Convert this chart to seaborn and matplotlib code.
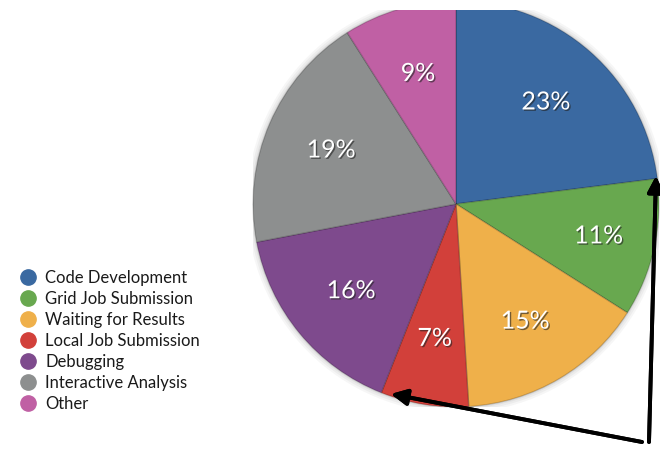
import matplotlib
matplotlib.use("Agg")
import matplotlib.pyplot as plt
import matplotlib.patheffects as pe
from matplotlib.lines import Line2D
from matplotlib.patches import Rectangle
import seaborn as sns

# Share of time spent per activity (percent), clockwise from 12 o'clock
categories = ["Code Development", "Grid Job Submission", "Waiting for Results",
              "Local Job Submission", "Debugging", "Interactive Analysis", "Other"]
shares = [23, 11, 15, 7, 16, 19, 9]
colors = ["#3a69a1", "#68a84f", "#efb04a", "#d2403a", "#7e4a8d", "#8d8f8f", "#c060a4"]

sns.set_theme(style="white")
plt.rcParams["font.family"] = ["Lato", "DejaVu Sans"]

W, H = 660, 449
fig = plt.figure(figsize=(W / 100, H / 100), dpi=100)

# pie centred at (456, 204) px from top-left, radius 203 px
cx, cy, r = 456, 204, 203
ax = fig.add_axes([(cx - r) / W, (H - cy - r) / H, 2 * r / W, 2 * r / H])
ax.axis("off")

# soft halo around the disc
for k, a in enumerate([0.05, 0.06, 0.08]):
    ax.add_patch(plt.Circle((0, 0), 1.03 - k * 0.01, color="#555555", alpha=a, lw=0))

wedges, _, autotexts = ax.pie(
    shares, colors=colors, startangle=90, counterclock=False, radius=1.0,
    autopct="%d%%", pctdistance=0.67,
    wedgeprops=dict(edgecolor="#00000030", linewidth=1.0),
    textprops=dict(color="white", fontsize=18),
)
for t in autotexts:
    t.set_path_effects([pe.withSimplePatchShadow(offset=(1, -1), shadow_rgbFace="#222222", alpha=0.6)])
# the narrow green slice carries its label a little further out
x1, y1 = autotexts[1].get_position()
autotexts[1].set_position((x1 * 0.72 / 0.67, y1 * 0.72 / 0.67))
ax.set_xlim(-1.0, 1.0)
ax.set_ylim(-1.0, 1.0)
ax.set_aspect("equal")

# white band across the top edge
fig.add_artist(Rectangle((0, (H - 10) / H), 1, 10 / H, transform=fig.transFigure,
                         facecolor="white", edgecolor="none", zorder=10))

# legend on the left
handles = [Line2D([0], [0], marker="o", linestyle="none", markersize=11,
                  markerfacecolor=c, markeredgecolor=c) for c in colors]
fig.legend(handles, categories, loc="upper left",
           bbox_to_anchor=(6 / W, (H - 258) / H), frameon=False,
           fontsize=12, handletextpad=0.45, labelspacing=0.3, handlelength=1.2,
           borderpad=0.2, labelcolor="#1a1a1a")

# arrows pointing at the rim of the pie
arrow = dict(arrowstyle="-|>,head_length=0.8,head_width=0.4", color="black", lw=2.8,
             shrinkA=0, shrinkB=0)
fig.add_artist(plt.annotate("", xy=(391, H - 394), xytext=(642, H - 442),
                            xycoords="figure pixels", textcoords="figure pixels",
                            arrowprops=arrow, annotation_clip=False))
fig.add_artist(plt.annotate("", xy=(656, H - 176), xytext=(649, H - 442),
                            xycoords="figure pixels", textcoords="figure pixels",
                            arrowprops=arrow, annotation_clip=False))

fig.savefig("out.png", dpi=100)
